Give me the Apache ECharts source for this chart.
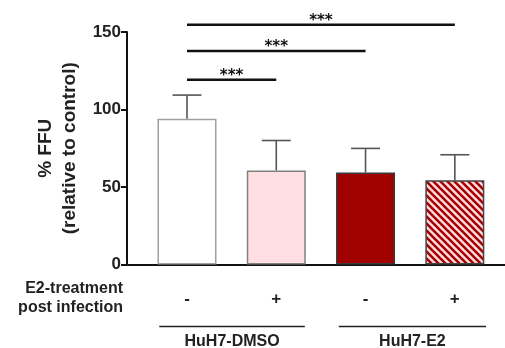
<!DOCTYPE html>
<html>
<head>
<meta charset="utf-8">
<script src="https://cdn.jsdelivr.net/npm/echarts@6/dist/echarts.min.js"></script>
<style>html,body{margin:0;padding:0;background:#fff}#c{width:505px;height:348px}</style>
</head>
<body>
<div id="c"></div>
<script>
// ---- data ----
var treatment = ['-', '+', '-', '+'];
var barPos = [0, 1, 2, 3];
var means = [94, 60.7, 59.4, 54.3];
var errUpper = [109.3, 80, 74.9, 70.8];
var groups = ['HuH7-DMSO', 'HuH7-E2'];
var groupSpans = [[-0.31, 1.32], [1.7, 3.35]];
var sigPairs = [[0, 1], [0, 2], [0, 3]];
var sigLevels = [119.2, 137.8, 154.7];
var sigText = ['***', '***', '***'];
var yTicks = [0, 50, 100, 150];

var FONT = '"Liberation Sans", Arial, sans-serif';

// stripe pattern for the last bar
function stripes() {
  var p = 7;
  var cv = document.createElement('canvas');
  cv.width = p; cv.height = p;
  var ctx = cv.getContext('2d');
  ctx.fillStyle = '#FFDDE1';
  ctx.fillRect(0, 0, p, p);
  ctx.strokeStyle = '#A60000';
  ctx.lineWidth = 2.6;
  for (var k = -p; k <= p; k += p) {
    ctx.beginPath();
    ctx.moveTo(k - 1, -1);
    ctx.lineTo(k + p + 1, p + 1);
    ctx.stroke();
  }
  return cv;
}

var barStyles = [
  {color: '#ffffff', borderColor: '#a0a0a0', borderWidth: 1.5},
  {color: '#FFDFE1', borderColor: '#808080', borderWidth: 1.5},
  {color: '#A00000', borderColor: '#3a3a3a', borderWidth: 1.5},
  {color: {image: stripes(), repeat: 'repeat'}, borderColor: '#444444', borderWidth: 1.5}
];

var barData = barPos.map(function (x, i) {
  return {value: [x, means[i]], itemStyle: barStyles[i]};
});
var errData = barPos.map(function (x, i) { return [x, means[i], errUpper[i]]; });
var sigData = sigPairs.map(function (p, i) { return [p[0], p[1], sigLevels[i], sigText[i]]; });
var treatData = barPos.map(function (x, i) { return [x, treatment[i]]; });
var groupData = groups.map(function (g, i) { return [groupSpans[i][0], groupSpans[i][1], g]; });

var chart = echarts.init(document.getElementById('c'), null, {renderer: 'canvas'});
chart.setOption({
  animation: false,
  grid: {left: 127, right: 0, top: 32, bottom: 83.5, containLabel: false},
  xAxis: {
    type: 'value', min: -0.672, max: 3.562,
    axisLine: {show: true, onZero: false, lineStyle: {color: '#111', width: 2}},
    axisTick: {show: false}, axisLabel: {show: false}, splitLine: {show: false}
  },
  yAxis: {
    type: 'value', min: yTicks[0], max: yTicks[yTicks.length - 1], interval: 50,
    name: '% FFU\n(relative to control)',
    nameLocation: 'middle', nameRotate: 90, nameGap: 39,
    nameTextStyle: {fontFamily: FONT, fontWeight: 'bold', fontSize: 19, lineHeight: 24, color: '#222'},
    axisLine: {show: true, onZero: false, lineStyle: {color: '#111', width: 2}},
    axisTick: {show: true, length: 6, lineStyle: {color: '#111', width: 2}},
    axisLabel: {fontFamily: FONT, fontWeight: 'bold', fontSize: 17, color: '#222', margin: 6},
    splitLine: {show: false}
  },
  series: [
    {type: 'bar', data: barData, barWidth: 59, z: 2},
    {
      type: 'custom', data: errData, z: 1,
      renderItem: function (params, api) {
        var base = api.coord([api.value(0), api.value(1)]);
        var top = api.coord([api.value(0), api.value(2)]);
        var hw = 14.5;
        return {type: 'group', children: [
          {type: 'line', shape: {x1: base[0], y1: base[1], x2: top[0], y2: top[1]}, style: {stroke: '#555', lineWidth: 1.6}},
          {type: 'line', shape: {x1: top[0] - hw, y1: top[1], x2: top[0] + hw, y2: top[1]}, style: {stroke: '#555', lineWidth: 1.6}}
        ]};
      }
    },
    {
      type: 'custom', data: sigData, z: 3,
      renderItem: function (params, api) {
        var a = api.coord([api.value(0), api.value(2)]);
        var b = api.coord([api.value(1), api.value(2)]);
        return {type: 'group', children: [
          {type: 'line', shape: {x1: a[0], y1: a[1], x2: b[0], y2: a[1]}, style: {stroke: '#111', lineWidth: 2.5}},
          {type: 'text', style: {text: api.value(3), x: (a[0] + b[0]) / 2, y: a[1] + 4, align: 'center', verticalAlign: 'bottom',
            font: 'bold 15px "DejaVu Sans", sans-serif', fill: '#111'}}
        ]};
      }
    },
    {
      type: 'custom', data: treatData, z: 3,
      renderItem: function (params, api) {
        var p = api.coord([api.value(0), 0]);
        return {type: 'text', style: {text: treatData[params.dataIndex][1], x: p[0], y: p[1] + 35, align: 'center', verticalAlign: 'middle',
          font: 'bold 17px ' + FONT, fill: '#222'}};
      }
    },
    {
      type: 'custom', data: groupData, z: 3,
      renderItem: function (params, api) {
        var a = api.coord([api.value(0), 0]);
        var b = api.coord([api.value(1), 0]);
        return {type: 'group', children: [
          {type: 'line', shape: {x1: a[0], y1: a[1] + 62, x2: b[0], y2: a[1] + 62}, style: {stroke: '#222', lineWidth: 1.6}},
          {type: 'text', style: {text: groupData[params.dataIndex][2], x: (a[0] + b[0]) / 2, y: a[1] + 77, align: 'center', verticalAlign: 'middle',
            font: 'bold 16px ' + FONT, fill: '#222'}}
        ]};
      }
    }
  ],
  graphic: [
    {type: 'text', x: 123, y: 279,
      style: {text: 'E2-treatment\npost infection', align: 'right', verticalAlign: 'top', font: 'bold 16px ' + FONT, lineHeight: 19, fill: '#222'}}
  ]
});
</script>
</body>
</html>
